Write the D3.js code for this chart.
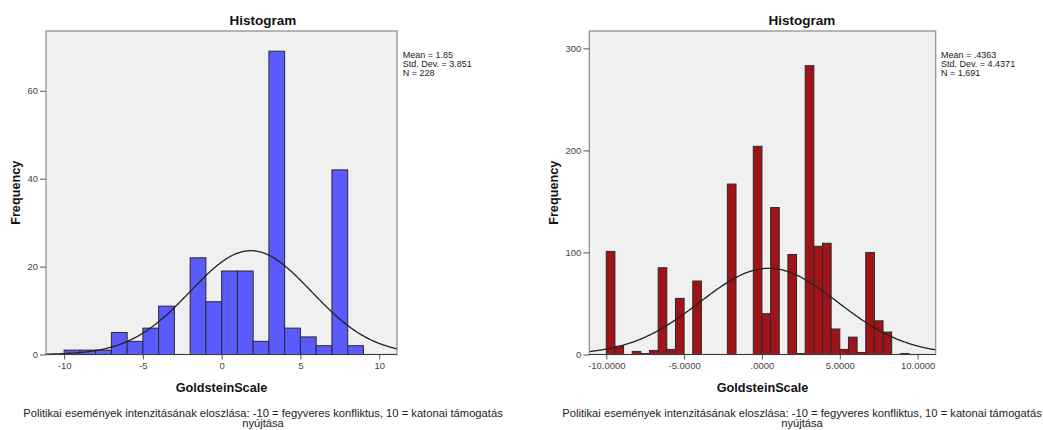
<!DOCTYPE html>
<html>
<head>
<meta charset="utf-8">
<script src="https://cdn.jsdelivr.net/npm/d3@7"></script>
<style>
  html, body { margin: 0; padding: 0; background: #ffffff; }
  svg { display: block; }
  text { font-family: "Liberation Sans", Arial, sans-serif; }
</style>
</head>
<body>
<svg id="chart" width="1043" height="430"></svg>
<script>
// ---------- DATA ----------
// Left histogram: bins of width 1 starting at -10
const leftBinStart = -10;
const leftBinWidth = 1;
const leftCounts = [1, 1, 1, 5, 3, 6, 11, 0, 22, 12, 19, 19, 3, 69, 6, 4, 2, 42, 2];
const leftStats = { mean: 1.85, sd: 3.851, n: 228 };
const leftStatLabels = ["Mean = 1.85", "Std. Dev. = 3.851", "N = 228"];
const leftXTicks = [-10, -5, 0, 5, 10];
const leftXTickLabels = ["-10", "-5", "0", "5", "10"];
const leftYTicks = [0, 20, 40, 60];

// Right histogram: bins of width 5/9 starting at -10
const rightBinStart = -10;
const rightBinWidth = 5 / 9;
const rightCounts = [101, 8, 0, 3, 1, 4, 85, 5, 55, 0, 72, 0, 0, 0, 167, 0, 0, 204, 40, 144,
                     0, 98, 1, 283, 106, 109, 25, 5, 17, 2, 100, 33, 22, 0, 1, 0];
const rightStats = { mean: 0.4363, sd: 4.4371, n: 1691 };
const rightStatLabels = ["Mean = .4363", "Std. Dev. = 4.4371", "N = 1,691"];
const rightXTicks = [-10, -5, 0, 5, 10];
const rightXTickLabels = ["-10.0000", "-5.0000", ".0000", "5.0000", "10.0000"];
const rightYTicks = [0, 100, 200, 300];

const titleText = "Histogram";
const xTitle = "GoldsteinScale";
const yTitle = "Frequency";
const captionLines = [
  "Politikai események intenzitásának eloszlása: -10 = fegyveres konfliktus, 10 = katonai támogatás",
  "nyújtása"
];

// ---------- DRAW ----------
const svg = d3.select("#chart");

function drawPanel(cfg) {
  const g = svg.append("g");
  const x = d3.scaleLinear().domain(cfg.xDomain).range([cfg.left, cfg.right]);
  const y = d3.scaleLinear().domain(cfg.yDomain).range([cfg.bottom, cfg.top]);

  // plot background
  g.append("rect")
    .attr("x", cfg.left).attr("y", cfg.top)
    .attr("width", cfg.right - cfg.left).attr("height", cfg.bottom - cfg.top)
    .attr("fill", "#f0f0f0");

  // bars
  const bins = cfg.counts.map((c, i) => ({
    x0: cfg.binStart + i * cfg.binWidth,
    x1: cfg.binStart + (i + 1) * cfg.binWidth,
    c: c
  })).filter(d => d.c > 0);

  g.selectAll("rect.bar").data(bins).enter().append("rect")
    .attr("class", "bar")
    .attr("x", d => x(d.x0))
    .attr("y", d => y(d.c))
    .attr("width", d => x(d.x1) - x(d.x0))
    .attr("height", d => y(0) - y(d.c))
    .attr("fill", cfg.color)
    .attr("stroke", "#2a2a2a")
    .attr("stroke-width", 1);

  // normal curve
  const s = cfg.stats;
  const pts = d3.range(0, 301).map(i => {
    const xv = cfg.xDomain[0] + (cfg.xDomain[1] - cfg.xDomain[0]) * i / 300;
    const dens = Math.exp(-0.5 * Math.pow((xv - s.mean) / s.sd, 2)) / (s.sd * Math.sqrt(2 * Math.PI));
    return [xv, dens * s.n * cfg.binWidth];
  });
  g.append("path")
    .datum(pts)
    .attr("d", d3.line().x(d => x(d[0])).y(d => y(d[1])).curve(d3.curveBasis))
    .attr("fill", "none")
    .attr("stroke", "#222")
    .attr("stroke-width", 1.3);

  // frame
  g.append("rect")
    .attr("x", cfg.left).attr("y", cfg.top)
    .attr("width", cfg.right - cfg.left).attr("height", cfg.bottom - cfg.top)
    .attr("fill", "none")
    .attr("stroke", "#8a8a8a")
    .attr("stroke-width", 1.2);
  // baseline
  g.append("line")
    .attr("x1", cfg.left).attr("x2", cfg.right)
    .attr("y1", cfg.bottom).attr("y2", cfg.bottom)
    .attr("stroke", "#3a3a3a").attr("stroke-width", 1.2);

  // axes
  const yAxis = d3.axisLeft(y).tickValues(cfg.yTicks).tickSize(6).tickPadding(2).tickFormat(d3.format("d"));
  const ya = g.append("g").attr("transform", `translate(${cfg.left},0)`).call(yAxis);
  ya.select(".domain").remove();
  ya.selectAll("line").attr("stroke", "#555");
  ya.selectAll("text").attr("font-size", "9.5px").attr("fill", "#444")
    .attr("font-family", "'Liberation Sans', Arial, sans-serif");

  const xAxis = d3.axisBottom(x).tickValues(cfg.xTicks).tickSize(5).tickPadding(3)
    .tickFormat((d, i) => cfg.xTickLabels[i]);
  const xa = g.append("g").attr("transform", `translate(0,${cfg.bottom})`).call(xAxis);
  xa.select(".domain").remove();
  xa.selectAll("line").attr("stroke", "#555");
  xa.selectAll("text").attr("font-size", "9.5px").attr("fill", "#444")
    .attr("font-family", "'Liberation Sans', Arial, sans-serif");

  // title
  g.append("text").attr("x", cfg.titleX).attr("y", 25)
    .attr("text-anchor", "middle").attr("font-weight", "bold").attr("font-size", "13.5px")
    .attr("fill", "#111").text(titleText);

  // x title
  g.append("text").attr("x", (cfg.left + cfg.right) / 2).attr("y", 391.5)
    .attr("text-anchor", "middle").attr("font-weight", "bold").attr("font-size", "12.7px")
    .attr("fill", "#111").text(xTitle);

  // y title
  g.append("text")
    .attr("transform", `translate(${cfg.yTitleX},${(cfg.top + cfg.bottom) / 2}) rotate(-90)`)
    .attr("text-anchor", "middle").attr("font-weight", "bold").attr("font-size", "12.7px")
    .attr("fill", "#111").text(yTitle);

  // stats legend
  g.selectAll("text.stat").data(cfg.statLabels).enter().append("text")
    .attr("class", "stat")
    .attr("x", cfg.legendX).attr("y", (d, i) => 57.5 + i * 9.2)
    .attr("font-size", "9px").attr("fill", "#222").text(d => d);

  // caption
  g.selectAll("text.cap").data(captionLines).enter().append("text")
    .attr("class", "cap")
    .attr("x", cfg.titleX).attr("y", (d, i) => 416.7 + i * 10)
    .attr("text-anchor", "middle").attr("font-size", "11.2px").attr("fill", "#222")
    .text(d => d);
}

drawPanel({
  left: 46, right: 397, top: 31, bottom: 354.5,
  xDomain: [-11.15, 11.13], yDomain: [0, 73.6],
  counts: leftCounts, binStart: leftBinStart, binWidth: leftBinWidth,
  stats: leftStats, statLabels: leftStatLabels,
  xTicks: leftXTicks, xTickLabels: leftXTickLabels, yTicks: leftYTicks,
  color: "#5a5aff", titleX: 263, yTitleX: 20, legendX: 402.7
});

drawPanel({
  left: 589.3, right: 935.7, top: 31, bottom: 354.5,
  xDomain: [-11.09, 11.16], yDomain: [0, 317],
  counts: rightCounts, binStart: rightBinStart, binWidth: rightBinWidth,
  stats: rightStats, statLabels: rightStatLabels,
  xTicks: rightXTicks, xTickLabels: rightXTickLabels, yTicks: rightYTicks,
  color: "#a01419", titleX: 802, yTitleX: 557.5, legendX: 941
});
</script>
</body>
</html>
